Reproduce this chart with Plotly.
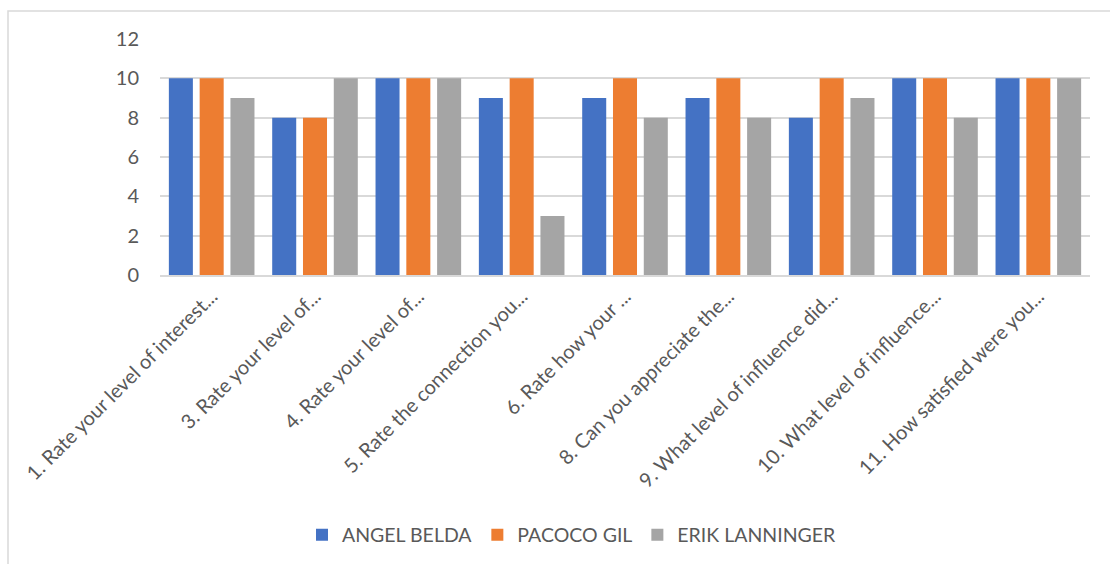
import plotly.graph_objects as go

categories = [
    "1. Rate your level of interest...",
    "3. Rate your level of...",
    "4. Rate your level of...",
    "5. Rate the connection you...",
    "6. Rate how your ...",
    "8. Can you appreciate the...",
    "9. What level of influence did...",
    "10. What level of influence...",
    "11. How satisfied were you...",
]
series_names = ["ANGEL BELDA", "PACOCO GIL", "ERIK LANNINGER"]
angel = [10, 8, 10, 9, 9, 9, 8, 10, 10]
pacoco = [10, 8, 10, 10, 10, 10, 10, 10, 10]
erik = [9, 10, 10, 3, 8, 8, 9, 8, 10]
colors = ["#4472C4", "#ED7D31", "#A5A5A5"]
y_ticks = [0, 2, 4, 6, 8, 10, 12]

W, H = 1110, 564
L, R, T, B = 160, W - 1090, 39, H - 275

fig = go.Figure()
for name, vals, col in zip(series_names, [angel, pacoco, erik], colors):
    fig.add_trace(go.Bar(x=categories, y=vals, name=name, marker_color=col,
                         marker_line_width=0))

pw = W - L - R
ph = H - T - B
fig.add_shape(type="rect", xref="paper", yref="paper",
              x0=(8 - L) / pw, x1=(1125 - L) / pw,
              y0=1 - (580 - T) / ph, y1=1 - (11 - T) / ph,
              line=dict(color="#D9D9D9", width=1.5), fillcolor="rgba(0,0,0,0)",
              layer="below")

FONT = "Lato, Open Sans, Liberation Sans, sans-serif"
fig.update_layout(
    width=W, height=H,
    margin=dict(l=L, r=R, t=T, b=B, autoexpand=False),
    paper_bgcolor="white", plot_bgcolor="white",
    barmode="group", bargap=0.106, bargroupgap=0.22,
    font=dict(family=FONT, color="#595959"),
    legend=dict(orientation="h", x=(572 - L) / pw, xanchor="center",
                y=1 - (535 - T) / ph,
                yanchor="middle", font=dict(size=19.5, color="#595959", family=FONT),
                itemwidth=30, traceorder="normal"),
    xaxis=dict(tickangle=-45, tickfont=dict(size=20, color="#595959", family=FONT),
               showline=True, linecolor="#D9D9D9", linewidth=1.5,
               ticks="", showgrid=False, automargin=False),
    yaxis=dict(range=[0, 12], tickvals=y_ticks,
               tickfont=dict(size=20, color="#595959", family=FONT),
               showgrid=True, gridcolor="#D9D9D9", gridwidth=1.5,
               zeroline=False, showline=False, ticks="", ticklabelstandoff=20,
               automargin=False),
)

fig.write_html("out.html")
